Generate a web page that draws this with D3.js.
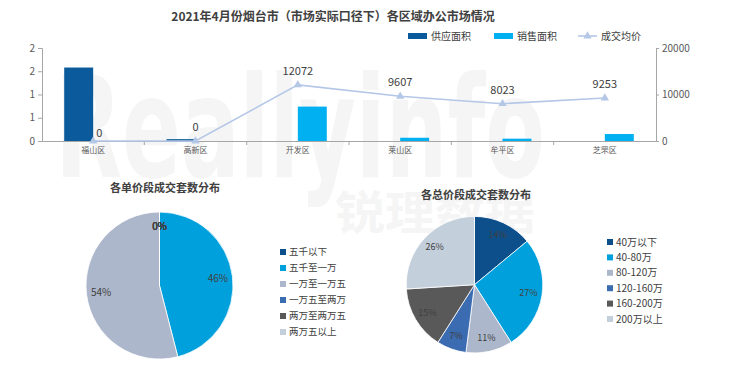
<!DOCTYPE html>
<html>
<head>
<meta charset="utf-8">
<script src="https://cdn.jsdelivr.net/npm/d3@7"></script>
<style>
  body { margin: 0; background: #fff; }
  text { font-family: "Noto Sans CJK SC", "Noto Sans", sans-serif; }
</style>
</head>
<body>
<div id="chart"></div>
<script>
// ---- data ----
const districts = ['福山区', '高新区', '开发区', '莱山区', '牟平区', '芝罘区'];
const supplyArea = [1.58, 0.04, 0, 0, 0, 0];
const salesArea = [0, 0, 0.74, 0.07, 0.05, 0.15];
const avgPrice = [0, 0, 12072, 9607, 8023, 9253];
const leftTicks = [0, 0.5, 1, 1.5, 2];
const rightTicks = [0, 10000, 20000];

const unitBands = ['五千以下', '五千至一万', '一万至一万五', '一万五至两万', '两万至两万五', '两万五以上'];
const unitShare = [0, 46, 54, 0, 0, 0];
const totalBands = ['40万以下', '40-80万', '80-120万', '120-160万', '160-200万', '200万以上'];
const totalShare = [14, 27, 11, 7, 15, 26];

const pieColors = ['#0d4f8b', '#00a0dc', '#adb7cb', '#3b6bb0', '#595959', '#c4cfdc'];
const supplyColor = '#0b5a9c', salesColor = '#00b0f0', lineColor = '#b4c7e7';
const textColor = '#404040', axisColor = '#a6a6a6';

const width = 740, height = 374;

const svg = d3.select('#chart').append('svg')
    .attr('width', width)
    .attr('height', height);

// faint watermark
svg.append('text')
    .attr('x', 55).attr('y', 177)
    .attr('textLength', 490).attr('lengthAdjust', 'spacingAndGlyphs')
    .style('font-family', 'DejaVu Sans')
    .style('font-weight', 'bold')
    .style('font-size', '140px')
    .style('fill', '#f5f5f5')
    .text('Reallyinfo');
svg.append('text')
    .attr('x', 335).attr('y', 229)
    .attr('textLength', 200).attr('lengthAdjust', 'spacingAndGlyphs')
    .style('font-weight', 'bold')
    .style('font-size', '46px')
    .style('fill', '#f5f5f5')
    .text('锐理数据');

// ---- top combo chart ----
svg.append('text')
    .attr('x', 333).attr('y', 21)
    .attr('text-anchor', 'middle')
    .style('font-size', '12px')
    .style('font-weight', 'bold')
    .style('fill', textColor)
    .text('2021年4月份烟台市（市场实际口径下）各区域办公市场情况');

const margin = {top: 48, left: 42, right: 84};
const plotW = width - margin.left - margin.right;
const plotH = 93;

const g = svg.append('g')
    .attr('transform', `translate(${margin.left},${margin.top})`);

const x = d3.scaleBand()
    .domain(districts)
    .range([0, plotW]);

const bw = x.bandwidth();
const x1 = d3.scaleBand()
    .domain(['supply', 'sales'])
    .range([bw * 0.217, bw * 0.783]);

const yL = d3.scaleLinear().domain([0, 2]).range([plotH, 0]);
const yR = d3.scaleLinear().domain([0, 20000]).range([plotH, 0]);

// left axis
g.append('g')
    .call(d3.axisLeft(yL).tickValues(leftTicks).tickSize(4).tickPadding(3)
        .tickFormat(d => Math.round(d)))
    .call(a => a.selectAll('line,path').attr('stroke', axisColor))
    .call(a => a.selectAll('text').style('font-size', '10px').style('fill', '#595959'));

// right axis
g.append('g')
    .attr('transform', `translate(${plotW},0)`)
    .call(d3.axisRight(yR).tickValues(rightTicks).tickSize(3).tickPadding(3)
        .tickFormat(d3.format('d')))
    .call(a => a.selectAll('line,path').attr('stroke', axisColor))
    .call(a => a.selectAll('text').style('font-size', '10px').style('fill', '#595959'));

// bars
const rows = districts.map((d, i) => ({district: d, supply: supplyArea[i], sales: salesArea[i], price: avgPrice[i]}));

g.selectAll('.supply')
    .data(rows)
    .enter()
    .append('rect')
    .attr('class', 'supply')
    .attr('x', d => x(d.district) + x1('supply'))
    .attr('y', d => yL(d.supply))
    .attr('width', x1.bandwidth())
    .attr('height', d => plotH - yL(d.supply))
    .style('fill', supplyColor);

g.selectAll('.sales')
    .data(rows)
    .enter()
    .append('rect')
    .attr('class', 'sales')
    .attr('x', d => x(d.district) + x1('sales'))
    .attr('y', d => yL(d.sales))
    .attr('width', x1.bandwidth())
    .attr('height', d => plotH - yL(d.sales))
    .style('fill', salesColor);

// bottom axis: labels at centres, ticks at band edges
g.append('g')
    .attr('transform', `translate(0,${plotH})`)
    .call(d3.axisBottom(x).tickSize(0).tickPadding(6))
    .call(a => a.select('.domain').attr('stroke', axisColor))
    .call(a => a.selectAll('text').style('font-size', '8px').style('fill', '#595959'));

g.selectAll('.edge')
    .data(districts.slice(1))
    .enter()
    .append('line')
    .attr('x1', d => x(d)).attr('x2', d => x(d))
    .attr('y1', plotH).attr('y2', plotH + 4)
    .attr('stroke', axisColor);

// price line
const cx = d => x(d.district) + bw / 2;
g.append('path')
    .datum(rows)
    .attr('fill', 'none')
    .attr('stroke', lineColor)
    .attr('stroke-width', 1.6)
    .attr('d', d3.line().x(cx).y(d => yR(d.price)));

const tri = d3.symbol().type(d3.symbolTriangle).size(30);
g.selectAll('.mark')
    .data(rows)
    .enter()
    .append('path')
    .attr('d', tri)
    .attr('transform', d => `translate(${cx(d)},${yR(d.price)})`)
    .style('fill', lineColor);

// labels sit above the point; nudged right of a tall supply bar
g.selectAll('.plabel')
    .data(rows)
    .enter()
    .append('text')
    .attr('x', d => cx(d) + (d.supply > 0.5 ? 3 : 0))
    .attr('y', d => yR(d.price) - (d.supply > 0.5 ? 4 : 10))
    .attr('text-anchor', d => d.supply > 0.5 ? 'start' : 'middle')
    .style('font-size', '11px')
    .style('fill', textColor)
    .text(d => d.price);

// top legend
const legend = [
    {name: '供应面积', type: 'rect', color: supplyColor, x: 408},
    {name: '销售面积', type: 'rect', color: salesColor, x: 494},
    {name: '成交均价', type: 'line', color: lineColor, x: 578}
];
const lg = svg.append('g').attr('transform', 'translate(0,36)');
legend.forEach(l => {
    if (l.type === 'rect') {
        lg.append('rect').attr('x', l.x).attr('y', -3).attr('width', 19).attr('height', 6).style('fill', l.color);
    } else {
        lg.append('line').attr('x1', l.x).attr('x2', l.x + 19).attr('stroke', l.color).attr('stroke-width', 1.6);
        lg.append('path').attr('d', tri).attr('transform', `translate(${l.x + 9.5},0)`).style('fill', l.color);
    }
    lg.append('text')
        .attr('x', l.x + 23).attr('dy', '0.35em')
        .style('font-size', '10px')
        .style('fill', textColor)
        .text(l.name);
});

// ---- pies ----
function drawPie(opts) {
    const pg = svg.append('g');
    pg.append('text')
        .attr('x', opts.titleX).attr('y', opts.titleY)
        .attr('text-anchor', 'middle')
        .style('font-size', '11px')
        .style('font-weight', 'bold')
        .style('fill', textColor)
        .text(opts.title);

    const color = d3.scaleOrdinal().domain(opts.names).range(pieColors);
    const items = opts.names.map((n, i) => ({name: n, value: opts.values[i]}));
    const arcs = d3.pie().sort(null).value(d => d.value)(items);
    const arc = d3.arc().innerRadius(0).outerRadius(opts.r);
    const labelArc = d3.arc().innerRadius(opts.r * 0.8).outerRadius(opts.r * 0.8);

    const c = pg.append('g').attr('transform', `translate(${opts.cx},${opts.cy})`);
    c.selectAll('path')
        .data(arcs)
        .enter()
        .append('path')
        .attr('d', arc)
        .style('fill', d => color(d.data.name))
        .style('stroke', '#fff')
        .style('stroke-width', 0.8);

    c.selectAll('text')
        .data(arcs)
        .enter()
        .append('text')
        .attr('transform', d => `translate(${labelArc.centroid(d)})`)
        .attr('text-anchor', 'middle')
        .attr('dy', '0.35em')
        .style('font-size', opts.labelSize)
        .style('fill', textColor)
        .text(d => d.data.value + '%');

    const leg = pg.append('g').attr('transform', `translate(${opts.legX},${opts.legY})`);
    opts.names.forEach((n, i) => {
        const row = leg.append('g').attr('transform', `translate(0,${i * opts.legStep})`);
        row.append('rect').attr('x', 0).attr('y', -3).attr('width', 6).attr('height', 6).style('fill', color(n));
        row.append('text')
            .attr('x', 9).attr('dy', '0.35em')
            .style('font-size', opts.legSize)
            .style('fill', textColor)
            .text(n);
    });
}

drawPie({
    title: '各单价段成交套数分布', titleX: 165, titleY: 192,
    names: unitBands, values: unitShare,
    cx: 159.5, cy: 285.5, r: 73.5, labelSize: '10px',
    legX: 280, legY: 252, legStep: 16, legSize: '9.5px'
});

drawPie({
    title: '各总价段成交套数分布', titleX: 476, titleY: 199,
    names: totalBands, values: totalShare,
    cx: 474.5, cy: 284.7, r: 68.3, labelSize: '9px',
    legX: 607, legY: 242, legStep: 15.4, legSize: '10px'
});
</script>
</body>
</html>
